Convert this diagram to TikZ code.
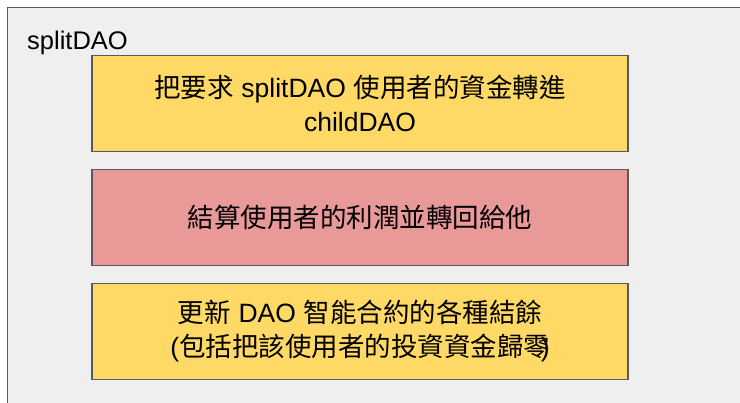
\documentclass[tikz,border=0pt]{standalone}
\usepackage{fontspec}
\setmainfont{Liberation Sans}
\newfontfamily\cjk{Noto Sans CJK TC}
\definecolor{outerbg}{HTML}{EFEFEF}
\definecolor{edgegray}{HTML}{595959}
\definecolor{boxyellow}{HTML}{FFD966}
\definecolor{boxred}{HTML}{EA9999}
\begin{document}
\begin{tikzpicture}[x=1pt,y=-1pt,
  stepbox/.style={draw=edgegray, line width=1.5pt, minimum width=536pt, minimum height=96pt,
    inner sep=0pt, align=center, text width=530pt, font=\fontsize{26.5}{34}\selectfont}]
\useasboundingbox (0,0) rectangle (740,403);
\fill[white] (0,0) rectangle (740,403);
\draw[draw=edgegray, fill=outerbg, line width=1.5pt] (7.5,7.5) rectangle (760,420);
\node[anchor=base west, inner sep=0pt, font=\fontsize{25.5}{30}\selectfont] (lbl) at (27,50) {splitDAO};
\node[stepbox, fill=boxyellow] (b1) at (360,103.5) {{\cjk 把要求}\kern-1pt\ splitDAO\ \kern-1pt{\cjk 使用者的資金轉進}\\childDAO};
\node[stepbox, fill=boxred] (b2) at (360,217.5) {{\cjk 結算使用者的利潤並轉回給他}};
\node[stepbox, fill=boxyellow] (b3) at (360,331.5) {{\cjk 更新}\kern-1pt\ DAO\ \kern-1pt{\cjk 智能合約的各種結餘}\\({\cjk 包括把該使用者的投資資金歸零}\kern-0.35em)};
\end{tikzpicture}
\end{document}
